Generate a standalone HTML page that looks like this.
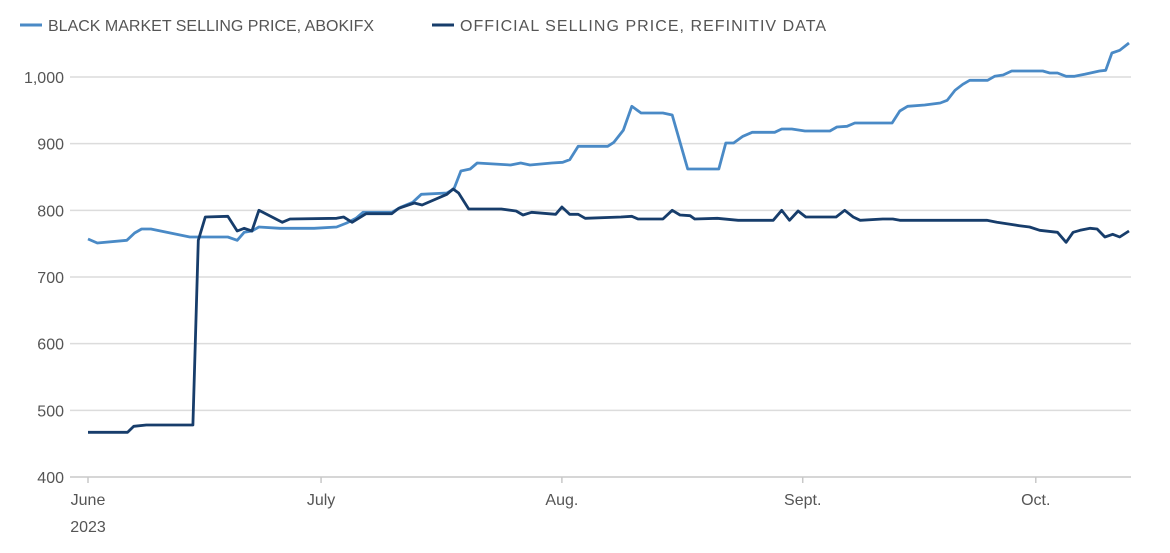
<!DOCTYPE html>
<html><head><meta charset="utf-8"><style>
body{margin:0;background:#fff;font-family:"Liberation Sans",sans-serif;}
svg text{font-family:"Liberation Sans",sans-serif;fill:#555;font-size:16px;}
</style></head><body>
<svg id="c" width="1170" height="548">
<g>
<line x1="20" y1="25" x2="42" y2="25" stroke="#4a8ac6" stroke-width="3"/>
<text x="48" y="31">BLACK MARKET SELLING PRICE, ABOKIFX</text>
<line x1="432" y1="25" x2="454" y2="25" stroke="#173d6b" stroke-width="3"/>
<text x="460" y="31" textLength="366">OFFICIAL SELLING PRICE, REFINITIV DATA</text>
</g>
<g id="grid"></g><g id="xax"></g><g id="lines"></g>
</svg>
<script>
const yTicks=[400,500,600,700,800,900,1000];
const yTickLabels=["400","500","600","700","800","900","1,000"];
const monthDays=[0,30,61,92,122];
const monthLabels=["June","July","Aug.","Sept.","Oct."];
const bmDays=[0,1.2,5.0,6.0,6.9,8.1,13.1,18.0,19.2,20.1,21.1,22.0,24.7,29.1,32.0,33.3,34.5,35.4,39.1,40.3,41.8,42.9,46.2,47.1,48.0,49.2,50.1,54.4,55.7,56.9,59.7,61.1,62.0,63.1,65.9,66.9,67.7,68.9,70.0,71.2,74.0,75.2,77.2,81.2,82.1,83.1,84.3,85.5,88.4,89.3,90.6,92.3,95.5,96.4,97.7,98.7,103.5,104.5,105.5,107.7,109.7,110.6,111.6,112.6,113.5,115.8,116.7,117.8,118.9,122.9,123.8,124.8,125.9,127.0,128.3,130.2,131.0,131.8,132.8,134.0];
const bmValues=[757,751,755,766,772,772,760,760,755,767,769,775,773,773,775,781,788,797,797,805,812,824,826,832,859,862,871,868,871,868,871,872,876,896,896,896,902,920,956,946,946,943,862,862,901,901,911,917,917,922,922,919,919,925,926,931,931,949,956,958,961,965,980,989,995,995,1001,1003,1009,1009,1006,1006,1001,1001,1004,1009,1010,1036,1040,1051];
const offDays=[0,5.1,5.9,7.5,13.5,14.2,15.1,18.0,19.2,20.1,21.1,22.0,25.0,26.0,32.0,32.9,34.0,35.8,39.1,40.0,42.0,43.0,46.2,47.0,47.7,49.0,53.2,55.1,56.0,57.1,60.2,61.0,62.0,63.1,64.0,68.6,70.0,70.8,74.0,75.2,76.2,77.5,78.1,81.0,83.7,88.2,89.3,90.3,91.4,92.4,96.3,97.4,98.5,99.4,102.3,103.6,104.5,115.7,117.0,118.7,119.9,121.2,122.5,124.8,125.9,126.8,127.7,129.0,129.9,130.9,131.9,132.8,134.0];
const offValues=[467,467,476,478,478,755,790,791,769,773,769,800,782,787,788,790,782,795,795,803,811,808,824,832,826,802,802,799,793,797,794,805,794,794,788,790,791,787,787,800,793,792,787,788,785,785,800,785,799,790,790,800,790,785,787,787,785,785,782,779,777,775,770,767,752,767,770,773,772,760,764,760,769];
const X0=88,X1=1129,D1=134,Y0=477,Y1=77;
const xs=d=>X0+d*(X1-X0)/D1;
const ys=v=>Y0-(v-400)*(Y0-Y1)/600;
const NS="http://www.w3.org/2000/svg";
function mk(t,a,p){const e=document.createElementNS(NS,t);for(const k in a)e.setAttribute(k,a[k]);p.appendChild(e);return e;}
const grid=document.getElementById('grid'),xax=document.getElementById('xax'),lines=document.getElementById('lines');
yTicks.forEach((v,i)=>{
 const l=mk('line',{x1:70,x2:1131,y1:ys(v),y2:ys(v),stroke:i==0?'#c8c8c8':'#dcdcdc','stroke-width':1.5},grid);
 
 
 const t=mk('text',{x:64,y:ys(v)+6,'text-anchor':'end'},grid);t.textContent=yTickLabels[i];
 
 
});
monthDays.forEach((d,i)=>{
 const tk=mk('line',{x1:xs(d),x2:xs(d),y1:Y0,y2:Y0+6,stroke:'#c8c8c8','stroke-width':1.5},xax);
 
 
 const t=mk('text',{x:xs(d),y:505,'text-anchor':'middle'},xax);t.textContent=monthLabels[i];
 
 
});
const yr=mk('text',{x:xs(0),y:532,'text-anchor':'middle'},xax);yr.textContent='2023';


function path(ds,vs){return ds.map((d,i)=>(i?'L':'M')+xs(d).toFixed(1)+' '+ys(vs[i]).toFixed(1)).join('');}
const p1=mk('path',{d:path(bmDays,bmValues),fill:'none',stroke:'#4a8ac6','stroke-width':2.8,'stroke-linejoin':'round'},lines);


const p2=mk('path',{d:path(offDays,offValues),fill:'none',stroke:'#173d6b','stroke-width':2.8,'stroke-linejoin':'round'},lines);


</script>
</body></html>
